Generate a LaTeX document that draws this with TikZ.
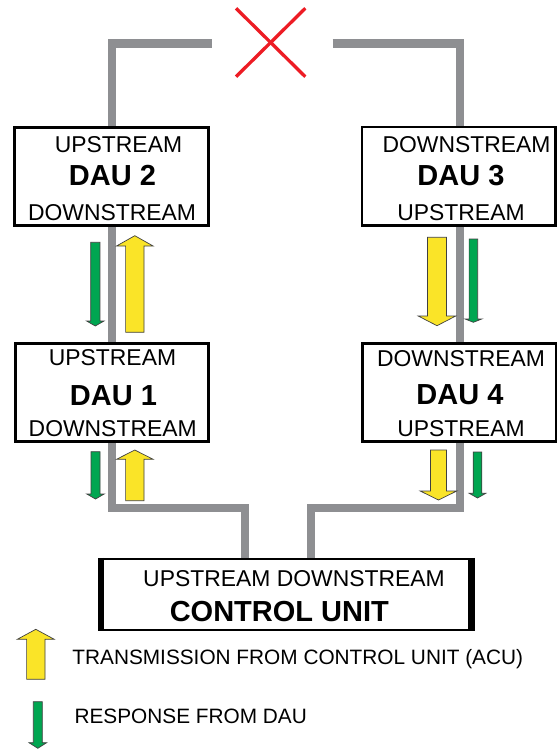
\documentclass[tikz,border=0pt]{standalone}
\usepackage{fontspec}
\setmainfont{Liberation Sans}
\usetikzlibrary{calc}
\pgfdeclarelayer{background}
\pgfsetlayers{background,main}

\definecolor{busgray}{RGB}{142,143,146}
\definecolor{breakred}{RGB}{237,28,36}
\definecolor{txyellow}{RGB}{250,228,40}
\definecolor{rxgreen}{RGB}{0,166,81}

% block arrow: style, x centre, y tail, y neck, y tip, half shaft, half head
\newcommand\blockarrow[7]{%
  \filldraw[#1] (#2-#6,#3) -- (#2-#6,#4) -- (#2-#7,#4) -- (#2,#5)
    -- (#2+#7,#4) -- (#2+#6,#4) -- (#2+#6,#3) -- cycle;}

\begin{document}
\begin{tikzpicture}[x=1pt,y=-1pt,
  dau/.style={draw, line width=2.8, fill=white, minimum width=193.7,
    minimum height=98.2, inner sep=0, outer sep=0},
  cubox/.style={draw, line width=2.3, fill=white, minimum width=374.7,
    minimum height=71, inner sep=0, outer sep=0},
  lbl/.style={font=\fontsize{22.9}{27}\selectfont, inner sep=0, anchor=base},
  dname/.style={font=\bfseries\fontsize{29}{34}\selectfont, inner sep=0, anchor=base},
  legend/.style={font=\fontsize{20.8}{25}\selectfont, inner sep=0, anchor=base west},
  bus/.style={busgray, line width=8.3, line cap=butt, line join=miter},
  txarrow/.style={fill=txyellow, draw=black!75, line width=0.7},
  rxarrow/.style={fill=rxgreen, draw=black!75, line width=0.7}]

\useasboundingbox (0,0) rectangle (557,749);

% data acquisition units and control unit
\node[dau] (dau2) at (111.7,176.3) {};
\node[dau] (dau1) at (112,392.6) {};
\node[dau] (dau3) at (458.8,176.2) {};
\node[dau] (dau4) at (459.2,392.5) {};
\node[cubox] (cu) at (286.2,594.4) {};
\draw[line width=6.6] ([shift={(2.15,-1.15)}]cu.north west) -- ([shift={(2.15,1.15)}]cu.south west);
\draw[line width=6.6] ([shift={(-2.15,-1.15)}]cu.north east) -- ([shift={(-2.15,1.15)}]cu.south east);

% box texts
\node[lbl] (dau2a) at (118.5,152.3) {UPSTREAM};
\node[dname] (dau2n) at (112.5,185) {DAU 2};
\node[lbl] (dau2b) at (112,220.7) {DOWNSTREAM};

\node[lbl] (dau1a) at (112.5,365.7) {UPSTREAM};
\node[dname] (dau1n) at (113.5,405) {DAU 1};
\node[lbl] (dau1b) at (112.7,436.7) {DOWNSTREAM};

\node[lbl] (dau3a) at (466.5,152.3) {DOWNSTREAM};
\node[dname] (dau3n) at (461,185) {DAU 3};
\node[lbl] (dau3b) at (461,220.7) {UPSTREAM};

\node[lbl] (dau4a) at (461,366) {DOWNSTREAM};
\node[dname] (dau4n) at (460,404.5) {DAU 4};
\node[lbl] (dau4b) at (461,436.7) {UPSTREAM};

\node[lbl] (cua) at (294,586.7) {UPSTREAM DOWNSTREAM};
\node[dname] (cun) at (279.3,621.7) {CONTROL UNIT};

% bus wiring, drawn beneath the boxes
\coordinate (gapL) at (212.3,43.5);
\coordinate (gapR) at (332.7,43.5);
\coordinate (cornerR) at (459.8,43.5);
\coordinate (j1) at (244.7,508.3);
\coordinate (j4) at (310.8,508.3);
\begin{pgfonlayer}{background}
  \fill[white] (0,0) rectangle (557,749);
  \draw[bus] (dau2.north) |- (gapL);
  \draw[bus] (gapR) -- (cornerR) -- (cornerR |- dau3.north);
  \draw[bus] (dau2.south) -- (dau2.south |- dau1.north);
  \draw[bus] ([xshift=1.2pt]dau3.south) -- ([xshift=1.2pt]dau3.south |- dau4.north);
  \draw[bus] (dau1.south) |- (j1) -- (j1 |- cu.north);
  \draw[bus] ([xshift=0.6pt]dau4.south) |- (j4) -- (j4 |- cu.north);
\end{pgfonlayer}

% broken link
\draw[breakred, line width=3.3] (236,8.3) -- (305.3,76.7);
\draw[breakred, line width=3.3] (236,76.7) -- (305.3,8.3);

% transmissions and responses
\blockarrow{rxarrow}{95.3}{242.3}{321}{326}{4.6}{8.7}
\blockarrow{txarrow}{134.8}{332.3}{246}{235.7}{9.2}{18.3}
\blockarrow{rxarrow}{95.5}{451.7}{494}{499}{4.5}{8.7}
\blockarrow{txarrow}{134.8}{500.7}{459.3}{450}{9.2}{18.3}
\blockarrow{txarrow}{437}{237.3}{316}{325.7}{9.5}{18.8}
\blockarrow{rxarrow}{473.4}{239}{319}{322.3}{4.3}{8.3}
\blockarrow{txarrow}{438.5}{450}{491}{500}{8}{18.3}
\blockarrow{rxarrow}{477.5}{452}{493.3}{498}{4.3}{8.3}

% legend
\blockarrow{txarrow}{35.8}{679.3}{639.3}{629.3}{9.2}{18.5}
\node[legend] (legtx) at (72.2,664) {TRANSMISSION FROM CONTROL UNIT (ACU)};
\blockarrow{rxarrow}{37.8}{701.7}{742.7}{748.3}{4.5}{8.8}
\node[legend] (legrx) at (74.4,723.3) {RESPONSE FROM DAU};

\end{tikzpicture}
\end{document}
